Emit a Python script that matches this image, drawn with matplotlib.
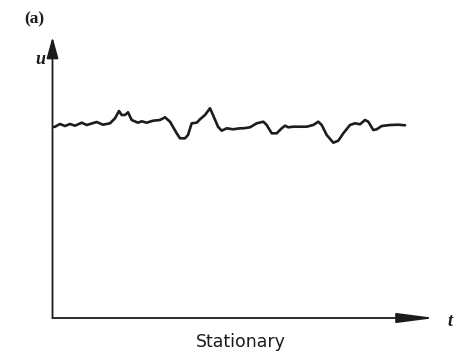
import matplotlib
matplotlib.use("Agg")
import matplotlib.pyplot as plt
from matplotlib.patches import ArrowStyle

# Sample record of a stationary signal u(t) (arbitrary units)
t = [1.5, 2.5, 7.5, 12.5, 17.5, 22.5, 29.2, 34.2, 44.2, 50.5, 57.5, 62.5,
     66.5, 69.2, 72.5, 75.5, 79.2, 85.5, 89.2, 94.2, 100.5, 107.5, 112.5,
     117.5, 124.2, 127.5, 132.5, 135.5, 139.2, 144.2, 147.5, 152.5, 157.5,
     160.5, 165.5, 169.2, 174.2, 180.5, 187.5, 190.8, 197.5, 204.2, 210.8,
     214.2, 219.2, 224.2, 229.2, 232.5, 235.8, 240.8, 254.2, 260.8, 265.8,
     269.2, 274.2, 280.8, 285.8, 290.8, 297.5, 302.5, 307.5, 312.5, 315.8,
     320.8, 324.2, 329.2, 337.5, 345.8, 352.5]
u = [191.0, 191.3, 194.0, 192.0, 194.0, 192.3, 195.3, 193.0, 196.0, 193.3,
     194.7, 199.7, 207.0, 203.0, 203.0, 205.7, 198.0, 195.3, 196.7, 195.3,
     197.3, 198.0, 200.7, 196.3, 184.7, 179.7, 179.7, 183.0, 194.7, 195.3,
     198.7, 203.0, 209.7, 203.0, 191.3, 187.3, 189.7, 188.7, 189.7, 189.7,
     190.7, 194.7, 196.3, 193.0, 184.7, 184.7, 189.7, 192.3, 190.7, 191.3,
     191.3, 193.0, 196.3, 193.0, 183.0, 175.3, 177.3, 184.7, 193.0, 194.7,
     193.7, 198.0, 196.3, 188.0, 188.7, 192.0, 193.0, 193.3, 192.7]

panel_label = "(a)"
y_label = "u"
x_label = "t"
caption = "Stationary"

ink = "#1c1c1c"
W, H = 455, 353
fig = plt.figure(figsize=(W / 100, H / 100), dpi=100)
fig.patch.set_facecolor("white")

# axes box: origin at the corner of the two arrows, extends to the arrow tips
x0, y0, x1, y1 = 52.5, 318.0, 435.0, 37.0
ax = fig.add_axes([x0 / W, (H - y0) / H, (x1 - x0) / W, (y0 - y1) / H])
ax.set_xlim(0, x1 - x0)
ax.set_ylim(0, y0 - y1)
ax.axis("off")

ax.plot(t, u, color=ink, lw=1.9, solid_joinstyle="round",
        solid_capstyle="round", clip_on=False)

# coordinate arrows
ax.annotate("", xy=(0, 1), xytext=(0, 0), xycoords="axes fraction",
            arrowprops=dict(arrowstyle=ArrowStyle("-|>", head_length=13, head_width=3.6),
                            mutation_scale=1, lw=1.3, color=ink,
                            shrinkA=0, shrinkB=0))
ax.annotate("", xy=(1, 0), xytext=(0, 0), xycoords="axes fraction",
            arrowprops=dict(arrowstyle=ArrowStyle("-|>", head_length=23, head_width=3.0),
                            mutation_scale=1, lw=1.3, color=ink,
                            shrinkA=0, shrinkB=0))

fig.text(34 / W, 1 - 19.5 / H, panel_label, ha="center", va="center",
         fontsize=12.5, fontweight="bold", family="Liberation Serif", color=ink)
fig.text(40.5 / W, 1 - 59 / H, y_label, ha="center", va="center",
         fontsize=13, fontstyle="italic", fontweight="bold",
         family="Liberation Serif", color=ink)
fig.text(450 / W, 1 - 321 / H, x_label, ha="center", va="center",
         fontsize=13, fontstyle="italic", fontweight="bold",
         family="Liberation Serif", color=ink)
fig.text(241 / W, 1 - 342 / H, caption, ha="center", va="center",
         fontsize=12.5, family="DejaVu Sans", color=ink)

fig.savefig("out.png", dpi=100, facecolor="white")
